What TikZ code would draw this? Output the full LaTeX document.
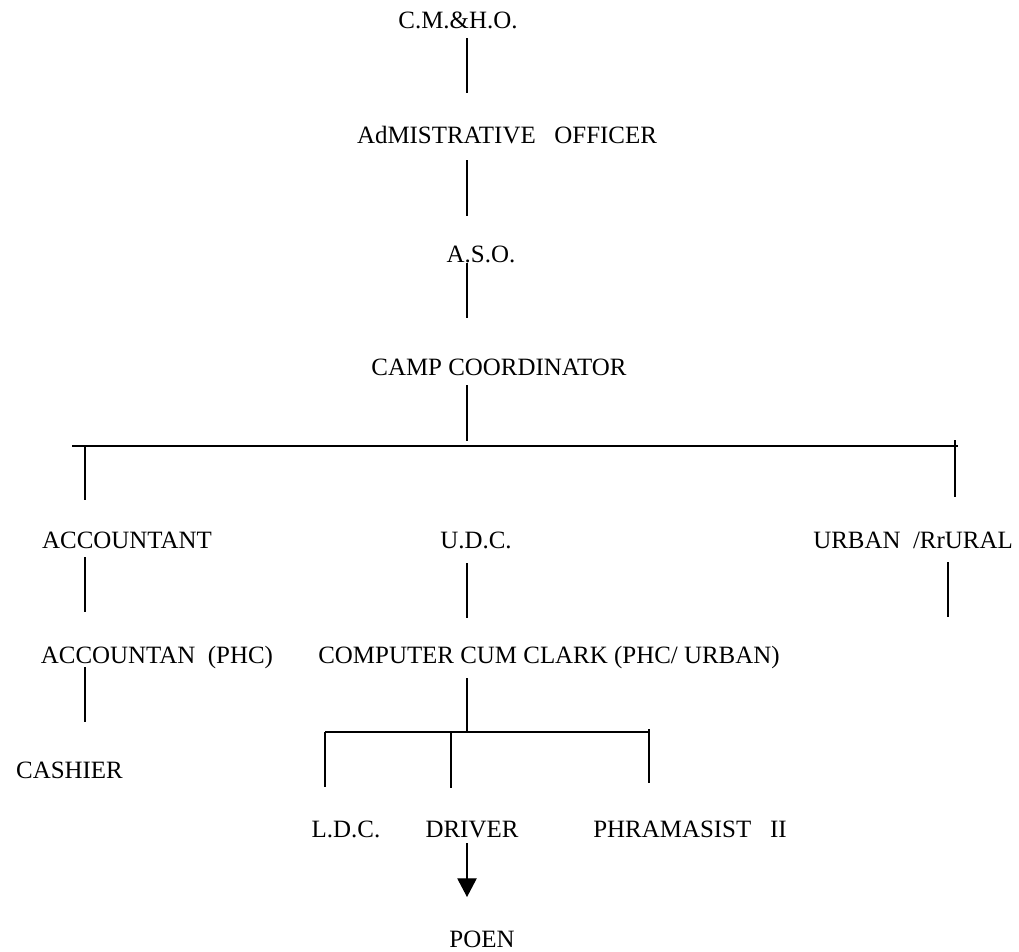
\documentclass[tikz,border=0pt]{standalone}
\usepackage{fontspec}
\setmainfont{Liberation Serif}
\usetikzlibrary{arrows.meta}
\begin{document}
\begin{tikzpicture}[x=0.75pt,y=-0.75pt,
  lbl/.style={anchor=base,inner sep=0pt,font=\fontsize{18.7}{21}\selectfont},
  conn/.style={line width=0.95pt},
  barline/.style={line width=1.6pt},
  arr/.style={line width=0.95pt,-{Triangle[width=14.5pt,length=14pt]}}]
\useasboundingbox (0,0) rectangle (1019,951);
% labels
\node[lbl] (cmho) at (458,28) {C.M.\&H.O.};
\node[lbl] (ao) at (507,143) {AdMISTRATIVE\ \ \ OFFICER};
\node[lbl] (aso) at (481,262) {A.S.O.};
\node[lbl] (camp) at (499,375) {CAMP COORDINATOR};
\node[lbl] (acc) at (127,548) {ACCOUNTANT};
\node[lbl] (udc) at (476,548) {U.D.C.};
\node[lbl] (urban) at (913,548) {URBAN\ \ /RrURAL};
\node[lbl] (accphc) at (157,663) {ACCOUNTAN\ \ (PHC)};
\node[lbl] (ccc) at (549,663) {COMPUTER CUM CLARK (PHC/ URBAN)};
\node[lbl] (cashier) at (69.5,778) {CASHIER};
\node[lbl] (ldc) at (346,837) {L.D.C.};
\node[lbl] (driver) at (472,837) {DRIVER};
\node[lbl] (phar) at (690,837) {PHRAMASIST\ \ \ II};
\node[lbl] (poen) at (482,947) {POEN};
% connector end points
\coordinate (a1) at (467,38);  \coordinate (a2) at (467,93);
\coordinate (b1) at (467,160); \coordinate (b2) at (467,216);
\coordinate (c1) at (467,263); \coordinate (c2) at (467,318);
\coordinate (d1) at (467,385); \coordinate (d2) at (467,441);
\coordinate (barL) at (72,446); \coordinate (barR) at (958,446);
\coordinate (dl1) at (85,446);  \coordinate (dl2) at (85,500);
\coordinate (dr1) at (955,440); \coordinate (dr2) at (955,497);
\coordinate (e1) at (85,557);  \coordinate (e2) at (85,612);
\coordinate (f1) at (467,563); \coordinate (f2) at (467,618);
\coordinate (g1) at (948,562); \coordinate (g2) at (948,617);
\coordinate (h1) at (85,667);  \coordinate (h2) at (85,722);
\coordinate (i1) at (467,678); \coordinate (i2) at (467,732);
\coordinate (sbL) at (325,732); \coordinate (sbR) at (649,732);
\coordinate (j2) at (325,787);
\coordinate (k1) at (451,732); \coordinate (k2) at (451,788);
\coordinate (m1) at (649,729); \coordinate (m2) at (649,783);
\coordinate (n1) at (467,843); \coordinate (n2) at (467,897);
% connectors
\draw[conn] (a1) -- (a2);
\draw[conn] (b1) -- (b2);
\draw[conn] (c1) -- (c2);
\draw[conn] (d1) -- (d2);
\draw[barline] (barL) -- (barR);
\draw[conn] (dl1) -- (dl2);
\draw[conn] (dr1) -- (dr2);
\draw[conn] (e1) -- (e2);
\draw[conn] (f1) -- (f2);
\draw[conn] (g1) -- (g2);
\draw[conn] (h1) -- (h2);
\draw[conn] (i1) -- (i2);
\draw[barline] (sbL) -- (sbR);
\draw[conn] (sbL) -- (j2);
\draw[conn] (k1) -- (k2);
\draw[conn] (m1) -- (m2);
\draw[arr] (n1) -- (n2);
\end{tikzpicture}
\end{document}
